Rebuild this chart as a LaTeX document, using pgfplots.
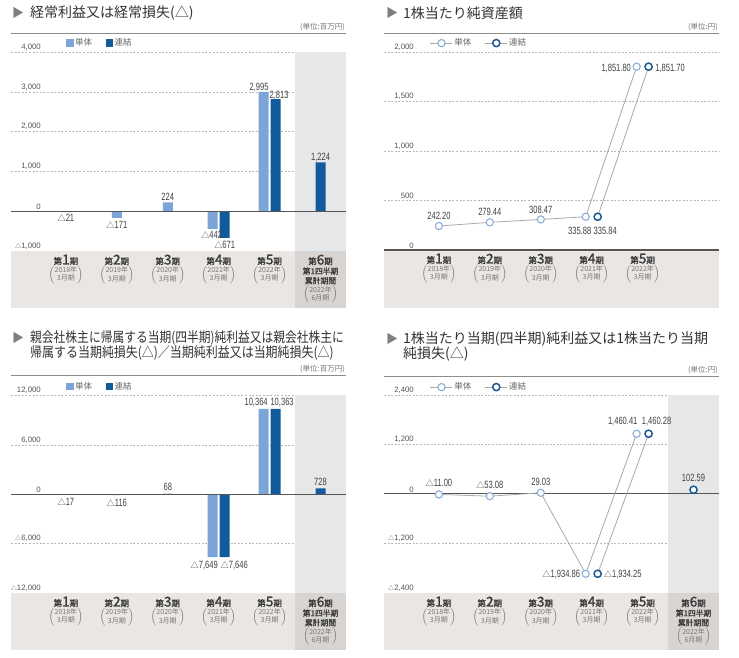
\documentclass[border=0pt]{standalone}
\usepackage{fontspec}
\usepackage{graphicx}
\usepackage{pgfplots}
\pgfplotsset{compat=1.18}
\setmainfont{Noto Sans CJK JP}
\newfontfamily\cjk{Noto Sans CJK JP}
\newfontfamily\cjkb[FakeBold=1.6]{Noto Sans CJK JP}
\newfontfamily\nf[FakeStretch=0.72]{Liberation Sans}
\newfontfamily\tf{Liberation Sans}

\definecolor{lb}{HTML}{7CA5D7}
\definecolor{db}{HTML}{115A9B}
\definecolor{lbm}{HTML}{8AAED8}
\definecolor{dbm}{HTML}{1B5A92}
\definecolor{band}{HTML}{E9E6E3}
\definecolor{bandsix}{HTML}{D7D4D1}
\definecolor{colsix}{HTML}{E6E7E8}
\definecolor{gridc}{HTML}{B8B8B8}
\definecolor{zeroc}{HTML}{555555}
\definecolor{trig}{HTML}{7F7F7F}
\definecolor{titc}{HTML}{333333}
\definecolor{sepc}{HTML}{8C8C8C}
\definecolor{unitc}{HTML}{777777}
\definecolor{catc}{HTML}{3A3A3A}
\definecolor{subc}{HTML}{7A7A7A}
\definecolor{valc}{HTML}{404040}
\definecolor{tickc}{HTML}{555555}
\definecolor{legc}{HTML}{666666}
\definecolor{linec}{HTML}{A9A9A9}

\newcommand\tri{{\cjk\scalebox{0.78}{△}}}
\newcommand\per[1]{{\cjkb\fontsize{8.5}{9.5}\selectfont\color{catc}第\fontsize{13.5}{9.5}\selectfont #1\fontsize{8.5}{9.5}\selectfont 期}}
\newcommand\cb[1]{{\cjkb\fontsize{7.8}{9.6}\selectfont\color{catc}#1}}
\newcommand\yr[2]{{\cjk\fontsize{7}{7.6}\selectfont\color{subc}$\left(\vcenter{\hbox{\begin{tabular}{@{}c@{}}#1\\#2\end{tabular}}}\right)$}}
\newcommand\ma{\tri1,000}
\newcommand\mb{\tri12,000}
\newcommand\mc{\tri2,400}

\tikzset{vl/.style={font=\nf\fontsize{10.5}{11}\selectfont, text=valc, inner sep=0pt, text height=7.6pt, text depth=0pt},
         gl/.style={draw=gridc, line width=0.55pt, dash pattern=on 2pt off 1.6pt}}

\pgfplotsset{
  panel/.style={
    scale only axis, width=335pt, xmin=-0.078, xmax=6.5,
    axis line style={draw=none}, major tick length=0pt, tick style={draw=none},
    scaled y ticks=false,
    clip=false,
    yticklabel style={anchor=south east, xshift=30pt, yshift=1.5pt, inner sep=0pt,
      font=\tf\fontsize{7.8}{8.5}\selectfont, text=tickc},
    xticklabel style={anchor=north, align=center, yshift=-3.5pt, inner sep=0pt,
      font=\cjkb\fontsize{8.5}{9.6}\selectfont},
    xtick={1,2,3,4,5,6},
    xticklabels={{\per{1}\\\yr{2018年}{3月期}},{\per{2}\\\yr{2019年}{3月期}},{\per{3}\\\yr{2020年}{3月期}},{\per{4}\\\yr{2021年}{3月期}},{\per{5}\\\yr{2022年}{3月期}},{\per{6}\\\cb{第1四半期}\\\cb{累計期間}\\\yr{2022年}{6月期}}},
    legend columns=2,
    legend style={draw=none, fill=none, inner sep=0pt,
      font=\cjk\fontsize{8.5}{9}\selectfont, nodes={text=legc, inner sep=1.5pt},
      /tikz/every even column/.append style={column sep=12pt}},
  },
  barleg/.style={legend image code/.code={\fill[##1] (0pt,-3.7pt) rectangle (7.5pt,3.7pt);}},
  lineleg/.style={legend image code/.code={\draw[mark repeat=2,mark phase=2,##1] plot coordinates {(0pt,0pt) (11pt,0pt) (22pt,0pt)};}},
  tan/.style={linec, line width=0.8pt, mark=*, mark size=3.6pt, mark options={draw=lbm, fill=white, line width=1.1pt}},
  ren/.style={linec, line width=0.8pt, mark=*, mark size=3.6pt, mark options={draw=dbm, fill=white, line width=1.5pt}},
}

\begin{document}
\begin{tikzpicture}
\useasboundingbox (0pt,0pt) rectangle (739pt,658pt);
\fill[white] (0pt,0pt) rectangle (739pt,658pt);

% bands
\fill[band] (11pt,350pt) rectangle (346pt,407pt);
\fill[bandsix] (295pt,350pt) rectangle (346pt,407pt);
\fill[band] (384pt,350pt) rectangle (719pt,408pt);
\fill[band] (11pt,8pt) rectangle (346pt,65pt);
\fill[bandsix] (295pt,8pt) rectangle (346pt,65pt);
\fill[band] (384pt,8pt) rectangle (719pt,65pt);
\fill[bandsix] (668pt,8pt) rectangle (719pt,65pt);

% separators
\draw[sepc, line width=0.9pt] (11pt,625pt) -- (346pt,625pt);
\draw[sepc, line width=0.9pt] (384pt,625pt) -- (719pt,625pt);
\draw[sepc, line width=0.9pt] (11pt,283pt) -- (346pt,283pt);
\draw[sepc, line width=0.9pt] (384pt,282pt) -- (719pt,282pt);

% titles
\tikzset{tri/.style={anchor=west, inner sep=0pt, font=\cjk\fontsize{12}{13}\selectfont, text=trig},
         ttl/.style={anchor=west, inner sep=0pt, font=\cjk\fontsize{14}{15}\selectfont, text=titc},
         unit/.style={anchor=east, inner sep=0pt, font=\cjk\fontsize{7.5}{8}\selectfont, text=unitc}}
\node[tri] at (12pt,645pt) {▶};
\node[ttl] at (30pt,645pt) {経常利益又は経常損失(△)};
\node[unit] at (345pt,631pt) {(単位:百万円)};
\node[tri] at (386pt,645pt) {▶};
\node[ttl] at (403pt,645pt) {1株当たり純資産額};
\node[unit] at (718pt,631pt) {(単位:円)};
\node[tri] at (12pt,320pt) {▶};
\node[ttl] at (30pt,320pt) {\scalebox{0.84}[1]{親会社株主に帰属する当期(四半期)純利益又は親会社株主に}};
\node[ttl] at (30pt,305pt) {\scalebox{0.855}[1]{帰属する当期純損失(△)／当期純利益又は当期純損失(△)}};
\node[unit] at (345pt,289pt) {(単位:百万円)};
\node[tri] at (386pt,319pt) {▶};
\node[ttl] at (403pt,319pt) {1株当たり当期(四半期)純利益又は1株当たり当期};
\node[ttl] at (403pt,304pt) {純損失(△)};
\node[unit] at (718pt,288pt) {(単位:円)};

% ---------- panel 1 ----------
\begin{axis}[panel, barleg, at={(11pt,407pt)}, anchor=south west, height=199pt,
  ymin=-1000, ymax=4000,
  ytick={-1000,0,1000,2000,3000,4000}, yticklabels={\ma,0,{1,000},{2,000},{3,000},{4,000}},
  legend style={at={(0.164,1.045)}, anchor=west}]
\fill[colsix] (axis cs:5.5,-1000) rectangle (axis cs:6.5,4000);
\draw[gl] (axis cs:-0.078,1000) -- (axis cs:5.5,1000);
\draw[gl] (axis cs:-0.078,2000) -- (axis cs:5.5,2000);
\draw[gl] (axis cs:-0.078,3000) -- (axis cs:5.5,3000);
\draw[gl] (axis cs:-0.078,4000) -- (axis cs:5.5,4000);
\addplot[ybar, bar width=10pt, bar shift=0pt, fill=lb, draw=none]
  coordinates {(1,-21) (2,-171) (3,224) (3.8824,-442) (4.8824,2995)};
\addlegendentry{単体}
\addplot[ybar, bar width=10pt, bar shift=0pt, fill=db, draw=none]
  coordinates {(4.1176,-671) (5.1176,2813) (6,1224)};
\addlegendentry{連結}
\draw[zeroc, line width=1pt] (axis cs:-0.078,0) -- (axis cs:6.5,0);
\node[vl, anchor=north, yshift=-2pt] at (axis cs:1,-21) {\tri21};
\node[vl, anchor=north, yshift=-3pt] at (axis cs:2,-171) {\tri171};
\node[vl, anchor=south, yshift=2pt] at (axis cs:3,224) {224};
\node[vl, anchor=north, yshift=-1.5pt, xshift=-1pt] at (axis cs:3.8824,-442) {\tri442};
\node[vl, anchor=north, yshift=-3pt] at (axis cs:4.1176,-671) {\tri671};
\node[vl, anchor=south, yshift=1pt, xshift=-4.5pt] at (axis cs:4.8824,2995) {2,995};
\node[vl, anchor=south, yshift=1pt, xshift=3.5pt] at (axis cs:5.1176,2813) {2,813};
\node[vl, anchor=south, yshift=1.5pt] at (axis cs:6,1224) {1,224};
\end{axis}

% ---------- panel 2 ----------
\begin{axis}[panel, lineleg, at={(384pt,408pt)}, anchor=south west, height=198pt,
  ymin=0, ymax=2000, xtick={1,2,3,4,5},
  ytick={0,500,1000,1500,2000}, yticklabels={0,500,{1,000},{1,500},{2,000}},
  legend style={at={(0.137,1.045)}, anchor=west}]
\draw[gl] (axis cs:-0.078,500) -- (axis cs:6.5,500);
\draw[gl] (axis cs:-0.078,1000) -- (axis cs:6.5,1000);
\draw[gl] (axis cs:-0.078,1500) -- (axis cs:6.5,1500);
\draw[gl] (axis cs:-0.078,2000) -- (axis cs:6.5,2000);
\addplot[tan] coordinates {(1,242.20) (2,279.44) (3,308.47) (3.8824,335.88) (4.8824,1851.80)};
\addlegendentry{単体}
\addplot[ren] coordinates {(4.1176,335.84) (5.1176,1851.70)};
\addlegendentry{連結}
\draw[zeroc, line width=1.8pt] (rel axis cs:0,0) -- (rel axis cs:1,0);
\node[vl, anchor=south, yshift=6.4pt] at (axis cs:1,242.20) {242.20};
\node[vl, anchor=south, yshift=6.7pt] at (axis cs:2,279.44) {279.44};
\node[vl, anchor=south, yshift=6pt] at (axis cs:3,308.47) {308.47};
\node[vl, anchor=north, yshift=-9.5pt, xshift=-6pt] at (axis cs:3.8824,335.88) {335.88};
\node[vl, anchor=north, yshift=-9.5pt, xshift=7.5pt] at (axis cs:4.1176,335.84) {335.84};
\node[vl, anchor=east, xshift=-5.5pt, yshift=-1pt] at (axis cs:4.8824,1851.80) {1,851.80};
\node[vl, anchor=west, xshift=6.5pt, yshift=-1pt] at (axis cs:5.1176,1851.70) {1,851.70};
\end{axis}

% ---------- panel 3 ----------
\begin{axis}[panel, barleg, at={(11pt,65pt)}, anchor=south west, height=197.5pt,
  ymin=-12000, ymax=12000,
  ytick={-12000,-6000,0,6000,12000}, yticklabels={\mb,{\tri6,000},0,{6,000},{12,000}},
  legend style={at={(0.164,1.045)}, anchor=west}]
\fill[colsix] (axis cs:5.5,-12000) rectangle (axis cs:6.5,12000);
\draw[gl] (axis cs:-0.078,-6000) -- (axis cs:5.5,-6000);
\draw[gl] (axis cs:-0.078,6000) -- (axis cs:5.5,6000);
\draw[gl] (axis cs:-0.078,12000) -- (axis cs:5.5,12000);
\addplot[ybar, bar width=10pt, bar shift=0pt, fill=lb, draw=none]
  coordinates {(1,-17) (2,-116) (3,68) (3.8824,-7649) (4.8824,10364)};
\addlegendentry{単体}
\addplot[ybar, bar width=10pt, bar shift=0pt, fill=db, draw=none]
  coordinates {(4.1176,-7646) (5.1176,10363) (6,728)};
\addlegendentry{連結}
\draw[zeroc, line width=1pt] (axis cs:-0.078,0) -- (axis cs:6.5,0);
\node[vl, anchor=north, yshift=-3pt] at (axis cs:1,-17) {\tri17};
\node[vl, anchor=north, yshift=-3.5pt] at (axis cs:2,-116) {\tri116};
\node[vl, anchor=south, yshift=2.8pt] at (axis cs:3,68) {68};
\node[vl, anchor=north, yshift=-3.5pt, xshift=-8.5pt] at (axis cs:3.8824,-7649) {\tri7,649};
\node[vl, anchor=north, yshift=-3.5pt, xshift=9.5pt] at (axis cs:4.1176,-7646) {\tri7,646};
\node[vl, anchor=south, yshift=3pt, xshift=-7.5pt] at (axis cs:4.8824,10364) {10,364};
\node[vl, anchor=south, yshift=3pt, xshift=6.5pt] at (axis cs:5.1176,10363) {10,363};
\node[vl, anchor=south, yshift=2.4pt] at (axis cs:6,728) {728};
\end{axis}

% ---------- panel 4 ----------
\begin{axis}[panel, lineleg, at={(384pt,65pt)}, anchor=south west, height=198pt,
  ymin=-2400, ymax=2400,
  ytick={-2400,-1200,0,1200,2400}, yticklabels={\mc,{\tri1,200},0,{1,200},{2,400}},
  legend style={at={(0.137,1.04)}, anchor=west}]
\fill[colsix] (axis cs:5.5,-2400) rectangle (axis cs:6.5,2400);
\draw[gl] (axis cs:-0.078,-1200) -- (axis cs:5.5,-1200);
\draw[gl] (axis cs:-0.078,1200) -- (axis cs:5.5,1200);
\draw[gl] (axis cs:-0.078,2400) -- (axis cs:5.5,2400);
\draw[zeroc, line width=1pt] (axis cs:-0.078,0) -- (axis cs:6.5,0);
\addplot[tan] coordinates {(1,-11.00) (2,-53.08) (3,29.03) (3.8824,-1934.86) (4.8824,1460.41)};
\addlegendentry{単体}
\addplot[ren] coordinates {(4.1176,-1934.25) (5.1176,1460.28)};
\addlegendentry{連結}
\addplot[ren, only marks, forget plot] coordinates {(6,102.59)};
\node[vl, anchor=south, yshift=8pt] at (axis cs:1,-11.00) {\tri11.00};
\node[vl, anchor=south, yshift=7.6pt] at (axis cs:2,-53.08) {\tri53.08};
\node[vl, anchor=south, yshift=7.2pt] at (axis cs:3,29.03) {29.03};
\node[vl, anchor=east, xshift=-5.5pt] at (axis cs:3.8824,-1934.86) {\tri1,934.86};
\node[vl, anchor=west, xshift=6pt] at (axis cs:4.1176,-1934.25) {\tri1,934.25};
\node[vl, anchor=south east, xshift=1pt, yshift=9pt] at (axis cs:4.8824,1460.41) {1,460.41};
\node[vl, anchor=south west, xshift=-7pt, yshift=9pt] at (axis cs:5.1176,1460.28) {1,460.28};
\node[vl, anchor=south, yshift=8.2pt] at (axis cs:6,102.59) {102.59};
\end{axis}
\end{tikzpicture}
\end{document}
